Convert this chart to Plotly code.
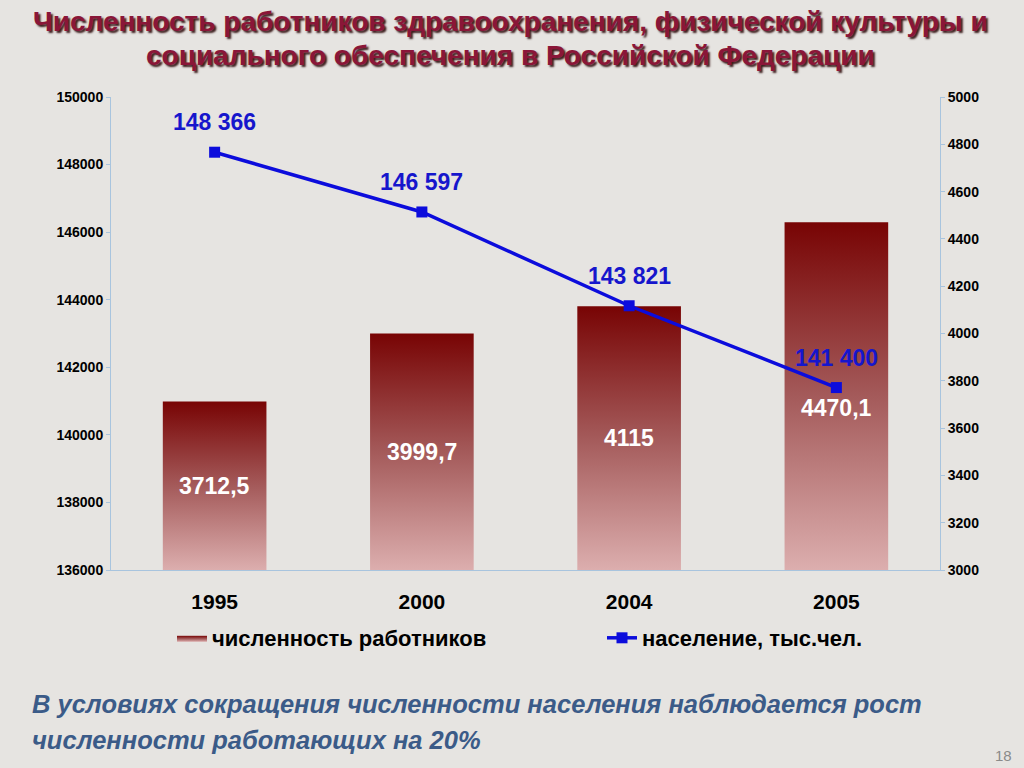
import plotly.graph_objects as go

# data
years = ["1995", "2000", "2004", "2005"]
workers = [3712.5, 3999.7, 4115, 4470.1]          # численность работников (right axis)
population = [148366, 146597, 143821, 141400]     # население, тыс.чел. (left axis)

workers_ticks = list(range(3000, 5001, 200))
population_ticks = list(range(136000, 150001, 2000))

FONT = "Liberation Sans, Arial, sans-serif"
BG = "#e6e4e1"
AXIS_BLUE = "#a8c4de"
BAR_WIDTH = 0.5
BAR_BASE = workers_ticks[0]

# plot area in page pixels: x 111..940, y 97..570
PLOT_L, PLOT_R, PLOT_T, PLOT_B = 111, 940, 97, 570


def px_x(x):
    return (x - PLOT_L) / (PLOT_R - PLOT_L)


def px_y(y):
    return (PLOT_B - y) / (PLOT_B - PLOT_T)


def fmt_pop(v):
    return f"{v:,}".replace(",", " ")


def fmt_workers(v):
    return f"{v:g}".replace(".", ",")


fig = go.Figure()

# gradient bars, drawn as filled shapes so each one gets its own vertical gradient
for i, v in enumerate(workers):
    left, right = i - BAR_WIDTH / 2, i + BAR_WIDTH / 2
    fig.add_trace(go.Scatter(
        x=[left, left, right, right, left],
        y=[BAR_BASE, v, v, BAR_BASE, BAR_BASE],
        mode="lines",
        fill="toself",
        fillgradient=dict(type="vertical",
                          colorscale=[[0, "#dcaeae"], [0.5, "#a45a5a"], [1, "#780404"]]),
        line=dict(width=0, color="#8a2a2a"),
        name="численность работников",
        legend="legend",
        showlegend=(i == 0),
        hoverinfo="skip",
        yaxis="y",
    ))

fig.add_trace(go.Scatter(
    x=list(range(len(years))),
    y=population,
    mode="lines+markers",
    line=dict(color="#0c0cdc", width=3.5),
    marker=dict(symbol="square", size=11, color="#0c0cdc"),
    name="население, тыс.чел.",
    legend="legend2",
    yaxis="y2",
))

# value labels
for i, v in enumerate(workers):
    fig.add_annotation(x=i, y=(BAR_BASE + v) / 2, xref="x", yref="y",
                       text=fmt_workers(v), showarrow=False,
                       yshift=-12 if i == len(workers) - 1 else 0,
                       font=dict(family=FONT, size=23, color="white", weight="bold"))
for i, v in enumerate(population):
    fig.add_annotation(x=i, y=v, xref="x", yref="y2", text=fmt_pop(v),
                       showarrow=False, yshift=30,
                       font=dict(family=FONT, size=23, color="#1616cc", weight="bold"))

# title (two centred lines with a shadow)
title_font = dict(family=FONT, size=28, color="#8a1638", weight="bold",
                  shadow="2px 2px 2px #3a1a1a")
for line, ypx in [("Численность работников здравоохранения, физической культуры и", 22),
                  ("социального обеспечения в Российской Федерации", 55)]:
    fig.add_annotation(x=px_x(510), xref="paper", xanchor="center",
                       y=px_y(ypx), yref="paper", yanchor="middle",
                       text=line, showarrow=False, font=title_font)

# conclusion text at the bottom
note_font = dict(family=FONT, size=25.5, color="#3b5b88", weight="bold", style="italic")
for line, ypx in [("В условиях сокращения численности населения наблюдается рост", 704),
                  ("численности работающих на 20%", 740)]:
    fig.add_annotation(x=px_x(30), xref="paper", xanchor="left",
                       y=px_y(ypx), yref="paper", yanchor="middle",
                       text=line, showarrow=False, font=note_font)

fig.add_annotation(x=px_x(1014), xref="paper", xanchor="right",
                   y=px_y(755), yref="paper", yanchor="middle",
                   text="18", showarrow=False,
                   font=dict(family=FONT, size=15, color="#8a8a8a"))

legend_font = dict(family=FONT, size=22, color="black", weight="bold")

fig.update_layout(
    width=1024, height=768,
    margin=dict(l=PLOT_L, r=1024 - PLOT_R, t=PLOT_T, b=768 - PLOT_B),
    paper_bgcolor=BG, plot_bgcolor=BG,
    font=dict(family=FONT, color="black"),
    showlegend=True,
    legend=dict(orientation="h", x=px_x(172), xanchor="left", y=px_y(638), yanchor="middle",
                bgcolor="rgba(0,0,0,0)", font=legend_font),
    legend2=dict(orientation="h", x=px_x(602), xanchor="left", y=px_y(638), yanchor="middle",
                 bgcolor="rgba(0,0,0,0)", font=legend_font),
    xaxis=dict(range=[-0.5, 3.5], tickvals=list(range(len(years))), ticktext=years,
               showgrid=False, zeroline=False, showline=True, linecolor=AXIS_BLUE,
               linewidth=1, ticks="", ticklabelstandoff=13,
               tickfont=dict(family=FONT, size=21, color="black", weight="bold")),
    # bars on the primary axis (drawn on the right) so the line stays on top
    yaxis=dict(range=[workers_ticks[0], workers_ticks[-1]], tickvals=workers_ticks,
               tickformat="d", side="right", showgrid=False, zeroline=False, showline=True,
               linecolor=AXIS_BLUE, ticks="outside", ticklen=4, tickcolor=AXIS_BLUE,
               tickfont=dict(family=FONT, size=14, color="black", weight="bold")),
    yaxis2=dict(range=[population_ticks[0], population_ticks[-1]], tickvals=population_ticks,
                tickformat="d", overlaying="y", side="left", showgrid=False, zeroline=False,
                showline=True, linecolor=AXIS_BLUE, ticks="outside", ticklen=4,
                tickcolor=AXIS_BLUE,
                tickfont=dict(family=FONT, size=14, color="black", weight="bold")),
)

# the page's default body margin would shift the figure by 8px
fig.write_html("out.html", config={"displayModeBar": False},
               post_script="document.body.style.margin='0';"
                           "document.body.style.background='" + BG + "';")
